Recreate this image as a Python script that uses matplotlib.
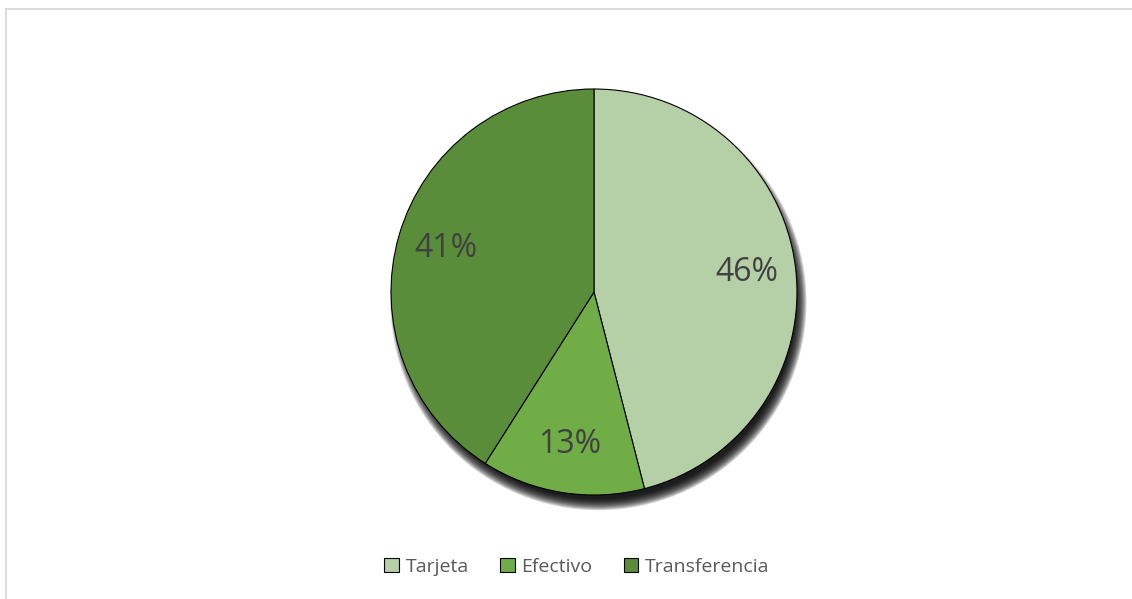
import numpy as np
import matplotlib.pyplot as plt
from matplotlib.patches import Circle
from matplotlib.lines import Line2D

# Payment method shares (percent)
metodos = ['Tarjeta', 'Efectivo', 'Transferencia']
porcentajes = [46, 13, 41]
colores = ['#B5CFA7', '#70AD47', '#5A8D39']

W, H = 1132, 599
fig = plt.figure(figsize=(W / 100, H / 100), dpi=100)
plt.rcParams['font.family'] = ['Open Sans', 'DejaVu Sans']

# chart area border (top and left edges only visible)
fig.add_artist(Line2D([5.5 / W, 1.0], [1 - 8.5 / H, 1 - 8.5 / H], color='#D9D9D9', lw=1.3))
fig.add_artist(Line2D([5.5 / W, 5.5 / W], [0.0, 1 - 8.5 / H], color='#D9D9D9', lw=1.3))

# pie axes: center (594, 292) px, radius 203 px, limits +-1.25
cx, cy, r = 594, 292, 203
span = r * 1.25
ax = fig.add_axes([(cx - span) / W, (H - cy - span) / H, 2 * span / W, 2 * span / H])

wedges, texts, autotexts = ax.pie(
    porcentajes, colors=colores, startangle=90, counterclock=False,
    autopct='%.0f%%', pctdistance=0.76,
    wedgeprops=dict(edgecolor='black', linewidth=0.8),
    textprops=dict(color='#404040', fontsize=23))

# soft drop shadow under the pie, offset down and slightly right
dx, dy = 0.022, -0.05
for k in np.linspace(-0.03, 0.025, 12):
    ax.add_patch(Circle((dx, dy), 1 + k, facecolor='black', edgecolor='none',
                        alpha=0.16, zorder=0))
for w in wedges:
    w.set_zorder(2)
for t in autotexts:
    t.set_zorder(3)

ax.set_xlim(-1.25, 1.25)
ax.set_ylim(-1.25, 1.25)
ax.set_aspect('equal')
ax.axis('off')

leg = fig.legend(wedges, metodos, loc='center', bbox_to_anchor=(577 / W, 1 - 567 / H),
                 ncol=3, frameon=False, fontsize=14, handlelength=0.75, handleheight=0.75,
                 handletextpad=0.35, columnspacing=1.6, labelcolor='#595959')
for h in leg.legend_handles:
    h.set_edgecolor('black')
    h.set_linewidth(0.8)

fig.savefig('out.png', dpi=100)
